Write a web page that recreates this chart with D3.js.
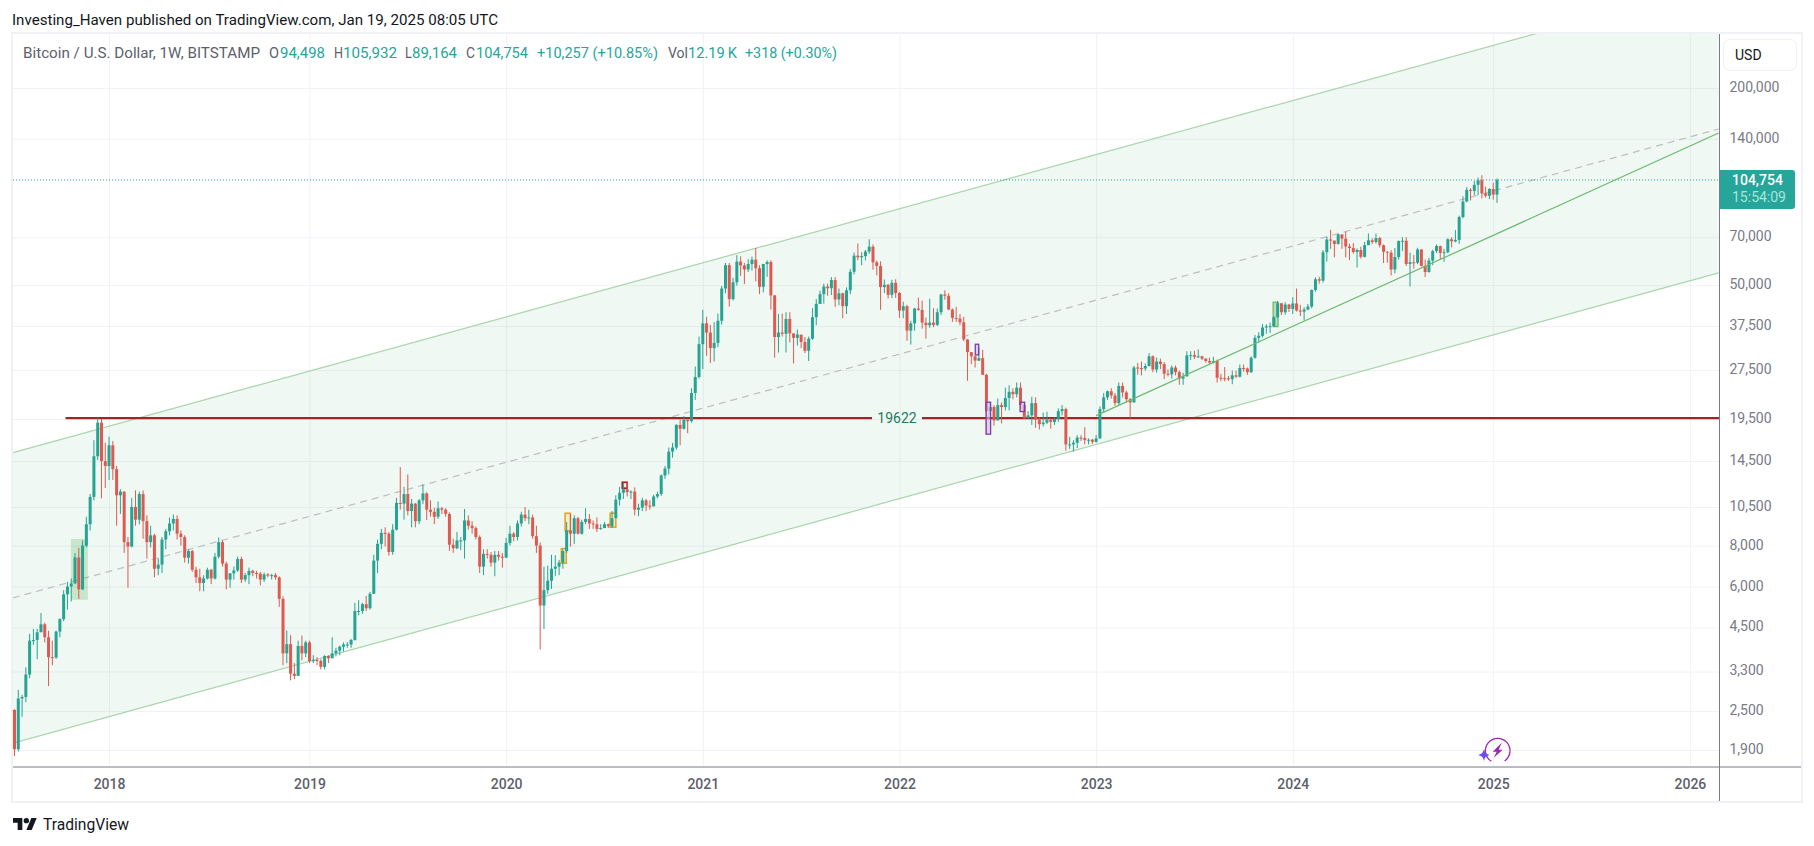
<!DOCTYPE html>
<html><head><meta charset="utf-8"><title>BTC/USD weekly</title>
<script src="https://cdn.jsdelivr.net/npm/d3@7/dist/d3.min.js"></script>
<style>html,body{margin:0;padding:0;background:#fff;overflow:hidden}svg{display:block}text{font-family:Roboto,"Open Sans",sans-serif}</style>
</head><body><div id="chart"></div>
<script>
// Weekly candles, index 0 = week of 10 Jul 2017; each open is the previous close.
const firstOpen = 2520;
const closes = [
1910,2730,2760,3230,4100,4120,4350,4600,4200,3650,
3640,4370,4770,5680,6000,6130,7360,5880,8000,9300,
11270,15000,19000,14500,14000,16200,13700,11400,11700,8200,
7950,10500,9600,11500,9500,8200,8600,6800,7000,8350,
8850,9350,9650,8700,8500,7350,7700,6750,6400,6150,
6350,6750,6350,7400,8200,7050,6300,6580,6720,7280,
6300,6500,6700,6600,6570,6300,6530,6480,6500,6400,
5500,3750,4000,3250,3200,3950,3750,4050,3550,3580,
3560,3410,3680,3620,3750,3820,3930,3990,3990,4120,
5050,5050,5300,5150,5700,7200,8100,8750,8700,7650,
8950,10800,10750,11500,10200,10750,9500,11000,11550,10300,
10150,9800,10400,10300,10000,8050,7850,8300,8300,9550,
9200,9050,8500,6900,7550,7500,7100,7500,7400,7350,
8150,8700,8500,9350,9950,9700,9750,8550,8000,5250,
5850,6250,6800,6900,7100,7700,8900,8700,9700,8700,
9450,9650,9350,9300,9000,9050,9300,9170,9700,11050,
11600,11900,11650,11700,10300,10450,11000,10600,10550,11300,
11500,13100,13750,15500,15950,18700,18200,19400,19200,23400,
26200,33000,38200,35800,32100,33300,38900,48800,57500,45300,
51000,59000,57400,55800,58000,59800,56300,49400,58000,58800,
46500,34700,35800,35500,39400,35600,34500,35300,33500,31500,
34300,39900,43800,46900,49500,48900,51800,45200,47200,43100,
48200,54900,61500,60800,61300,63300,65500,58700,57200,49300,
50100,46700,50800,47300,41800,43100,36300,38200,42400,42000,
38400,37700,38400,37800,41300,46800,46400,42100,39700,39500,
38500,34100,31200,30300,29400,29900,26600,20600,21200,19300,
21500,21200,22600,23600,23200,24300,21500,19600,20000,21800,
19400,18800,19000,19400,19100,19500,20600,20900,16300,16300,
16500,17100,17050,16800,16850,16600,17000,20900,22700,23700,
23000,21800,24600,23500,22400,21900,28000,27900,27800,28300,
30300,27600,29200,28700,26800,26700,28000,27100,25900,26300,
30500,30550,30200,30300,29800,29300,29000,29300,26050,26000,
25950,25800,26500,26250,27900,27800,27100,30000,34500,35000,
37100,37400,37450,39900,44000,41300,43600,42300,43950,41800,
41500,42100,43000,48300,52100,51600,63000,68900,68400,66800,
71400,69300,65600,64900,63100,64000,61000,66200,68500,67700,
69600,66200,63200,62800,55800,60900,68200,68300,58000,58700,
58500,64200,57200,54800,59400,63500,65800,62700,63000,69000,
68000,68700,80700,90000,97700,97000,101200,104500,95300,93700,
98300,94498,104754];
const highs = [
2530,2900,2800,3400,4300,4450,4450,4980,4650,4400,
4100,4400,4800,5850,6200,6350,7590,7880,8300,9800,
11500,16800,19666,19500,16500,17200,16700,14000,11900,11700,
8500,11200,11800,11700,11800,9900,9200,8700,7300,8500,
9000,9750,9950,9900,8900,8600,7800,7760,6900,6800,
6500,6850,6800,7600,8480,8300,7150,6600,6900,7400,
7400,6600,6850,6750,6700,6650,6620,6600,6560,6600,
6450,5600,4400,4260,3500,4100,4250,4100,4100,3700,
3650,3600,3700,3700,4200,3900,3960,4050,4060,4150,
5350,5450,5350,5620,5780,7500,8350,9000,9100,8800,
9300,11200,13900,12100,13200,11100,10800,11100,12300,11650,
11000,10450,10900,10500,10400,10100,8400,8800,8500,10350,
9900,9500,9150,8600,7800,7800,7650,7700,7700,7600,
8450,9200,8800,9550,10150,10500,10300,9950,9200,8180,
6900,6950,7500,7480,7240,7800,9450,10000,9900,9800,
9600,10400,9990,9550,9750,9300,9450,9350,10200,11400,
12100,12450,12500,11800,12050,10750,11200,11100,11000,11450,
11700,13200,14000,15950,16480,18800,19400,19900,19400,24200,
28200,34800,42000,40000,37800,38500,40900,49700,58400,58400,
52600,61700,61200,58400,60000,61100,64900,57500,58000,59500,
59600,46600,40800,40900,41300,41300,35600,36600,35100,34700,
34800,42500,45300,48100,50500,50500,52900,52900,48800,47400,
49200,56000,62900,67000,63000,64000,69000,66500,59400,59100,
52000,50400,51900,52100,47600,44500,43500,38900,42600,45800,
44800,39800,45400,42500,42400,47000,48200,47200,42400,42900,
40800,40000,34200,31200,30500,32300,31700,26800,22000,21500,
22500,21900,24300,24700,24200,25200,25200,21900,20600,22800,
22700,19700,20400,20500,19600,19700,21000,21500,21100,17200,
16800,17400,17400,18400,17000,16950,17400,21300,23400,23800,
24200,23400,25200,25200,23800,22600,28300,28900,29200,28800,
31000,30500,30000,29800,29100,27600,28400,28400,27400,27000,
31400,31400,31500,31800,30400,29900,30000,30200,29600,26800,
28100,26400,27400,27400,28600,28600,28000,30300,35200,35900,
38000,37950,38400,40200,44700,44000,44300,43800,45900,48800,
43500,42800,43800,48500,52800,53000,64000,70200,73800,68000,
71700,71500,72800,66900,67200,64700,65500,67700,71900,69500,
71900,70200,66500,63400,63900,64900,68400,70000,70000,62800,
61800,65000,64500,59800,60500,64100,66500,66000,64500,69500,
70000,73600,81500,93400,99600,98900,103900,106500,108300,99900,
98900,102700,105932];
const lows = [
1820,1880,2400,2660,3150,3980,3600,4350,4050,2980,
3450,3610,4200,4700,5100,5400,6100,5500,5850,7900,
8900,11000,14600,11160,12000,12700,12700,9200,10000,7600,
5950,7900,9200,9300,8400,7300,7900,6400,6500,6600,
7800,8600,8900,8350,8000,7100,7050,6650,6150,5800,
5800,6300,6100,6300,7300,6900,5880,5950,6300,6650,
6150,6200,6100,6450,6350,6050,6200,6400,6300,6300,
5200,3450,3500,3100,3130,3200,3570,3650,3500,3500,
3450,3350,3350,3500,3630,3670,3700,3800,3900,3900,
4100,4900,4950,5050,5100,5700,6600,7800,7950,7450,
7500,8900,10300,9600,9900,9100,9100,9300,10700,9570,
9800,9300,9650,10000,9800,7700,7600,7800,7750,7300,
8950,8700,8350,6600,6500,7300,6900,6450,7200,6850,
7350,8000,8250,8300,9150,9500,9300,8400,7600,3850,
4450,5700,5900,6450,6500,6800,7600,7950,8100,8650,
8650,9300,9000,9000,8800,8950,9050,9050,9050,9850,
10600,11100,11300,11100,9900,9850,10200,10200,10300,10530,
11150,11350,12800,13200,14850,15700,16200,18100,17650,19000,
22300,25900,27700,30400,28900,29200,32300,37900,47200,43000,
44900,49800,53300,50400,54800,55400,51300,46900,47500,53000,
42100,30000,31100,34800,31100,33400,28800,32700,32100,31000,
29300,34000,37700,43800,43900,46400,46600,42900,43400,39600,
40800,46900,53900,59500,57500,59500,62300,55700,53500,42000,
47300,45500,45600,45700,39700,39600,33800,32900,36300,41700,
36800,34300,37000,37200,37500,40500,45100,41900,38600,38600,
37700,33700,25500,28700,28000,29300,26600,17600,20000,18600,
19300,18900,20700,20700,22400,22700,20800,19500,19600,18700,
18300,18100,18500,18800,18200,18700,19100,20000,15600,15800,
15500,15900,16700,16300,16300,16350,16500,17000,20400,22300,
22500,21400,21500,22700,21900,19600,21900,26600,26500,27400,
28200,27100,27000,27700,25800,26300,25900,26500,24800,24800,
26300,29500,29700,29900,29500,29000,28600,28800,25200,25400,
25400,25500,24900,26000,26100,27200,26600,26950,29800,33400,
34600,35500,35700,37400,39700,40500,40600,41400,40800,41500,
40200,39000,41900,42500,47700,50500,50900,59000,64500,60800,
66500,64500,60700,59600,62400,56500,60200,60700,66700,66700,
67000,65100,58400,58500,53500,54300,59800,63500,57200,49500,
56100,57900,57000,52900,54600,57500,62600,59900,58900,62500,
65200,67500,66800,80000,89500,90700,94000,94200,92000,92500,
91500,91200,89164];

const priceTicks = [200000,140000,70000,50000,37500,27500,19500,14500,10500,8000,6000,4500,3300,2500,1900];
const yearLabels = ["2018","2019","2020","2021","2022","2023","2024","2025","2026"];
const yearWeeks  = [25,78,130,182,234,286,338,391,443];

// Drawn lines: [week index, price] pairs
const channelUpper = [[-0.4,15390],[450.6,417600]];
const channelLower = [[-0.4,1995],[450.6,54500]];
const channelMiddle = [[-0.4,5540],[450.6,149900]];
const trendLine = [[286,19960],[450.6,145700]];
const supportLevel = 19622;
const supportFrom = 13.5;
const lastPrice = 104754;

// Highlight boxes: week from, week to, price high, price low
const shadedBox = [14.9,19.4,8385,5465];
const orangeBoxes = [[144.6,145.9,7834,7069],[145.6,147,10046,8872],[157.5,159,10046,9106]];
const redBoxes = [[160.7,162,12494,11982]];
const greenBoxes = [[332.8,334.1,44320,37320]];
const purpleBoxes = [[256.9,258.1,21940,17518],[254.05,254.95,32980,30600],[265.9,267.1,21940,20540]];

const W=1814,H=846;
const L=13,T=34,R=1719.5,B=767,FR=1801,FB=801;
const x=d3.scaleLinear().domain([0,392]).range([14.5,1497]);
const y=d3.scaleLog().domain([200000,1900]).range([88,750]);
const UP="#26a391",DOWN="#de5a50",GRID="#f0f2f7",AXIS="#787b86";

const svg=d3.select("#chart").append("svg").attr("width",W).attr("height",H);
svg.append("defs").append("clipPath").attr("id","plot").append("rect")
  .attr("x",L).attr("y",T).attr("width",R-L).attr("height",B-T);

// outer frame
svg.append("rect").attr("x",L-1).attr("y",T-1).attr("width",FR-L+2).attr("height",FB-T+2)
  .attr("fill","#fff").attr("stroke","#f0f1f4").attr("stroke-width",2);

const plot=svg.append("g").attr("clip-path","url(#plot)");

// grid through d3 axes
const gy=plot.append("g").attr("transform",`translate(${L},0)`)
  .call(d3.axisRight(y).tickValues(priceTicks).tickSize(R-L).tickFormat(""));
const gx=plot.append("g").attr("transform",`translate(0,${B})`)
  .call(d3.axisTop(x).tickValues(yearWeeks).tickSize(B-T).tickFormat(""));
[gy,gx].forEach(g=>{g.select(".domain").remove();g.selectAll("line").attr("stroke",GRID).attr("stroke-width",1);});

// channel
const ln=d3.line().x(d=>x(d[0])).y(d=>y(d[1]));
plot.append("path").attr("d",ln(channelUpper)+"L"+ln(channelLower.slice().reverse()).slice(1)+"Z")
  .attr("fill","#43a868").attr("fill-opacity",0.08);
plot.append("path").attr("d",ln(channelUpper)).attr("fill","none").attr("stroke","#a8d5aa").attr("stroke-width",1.2);
plot.append("path").attr("d",ln(channelLower)).attr("fill","none").attr("stroke","#a8d5aa").attr("stroke-width",1.2);
plot.append("path").attr("d",ln(channelMiddle)).attr("fill","none").attr("stroke","#bcbec2").attr("stroke-width",1.2).attr("stroke-dasharray","7 5");

// boxes under the candles
const box=(g,b)=>g.append("rect").attr("x",x(b[0])).attr("width",x(b[1])-x(b[0])).attr("y",y(b[2])).attr("height",y(b[3])-y(b[2]));
box(plot,shadedBox).attr("fill","#4caf50").attr("fill-opacity",0.25);
orangeBoxes.forEach(b=>box(plot,b).attr("fill","#ffc107").attr("fill-opacity",0.15).attr("stroke","#e0a526").attr("stroke-width",1.6));
redBoxes.forEach(b=>box(plot,b).attr("fill","#ffcdd2").attr("fill-opacity",0.4).attr("stroke","#a81c1c").attr("stroke-width",1.6));
greenBoxes.forEach(b=>box(plot,b).attr("fill","#a5d6a7").attr("fill-opacity",0.75).attr("stroke","#66b56a").attr("stroke-width",1.2));

// support line
const labelX=897, labelHalf=25;
const sy=y(supportLevel);
plot.append("line").attr("x1",x(supportFrom)).attr("x2",labelX-labelHalf).attr("y1",sy).attr("y2",sy).attr("stroke","#a32426").attr("stroke-width",2.2);
plot.append("line").attr("x1",labelX+labelHalf).attr("x2",R).attr("y1",sy).attr("y2",sy).attr("stroke","#a32426").attr("stroke-width",2.2);

// last price dotted
plot.append("line").attr("x1",L).attr("x2",R).attr("y1",y(lastPrice)).attr("y2",y(lastPrice))
  .attr("stroke",UP).attr("stroke-width",1).attr("stroke-dasharray","1 2");

// candles
const opens=closes.map((c,i)=>i===0?firstOpen:closes[i-1]);
const candles=plot.append("g").selectAll("g").data(closes).join("g");
candles.append("line")
  .attr("x1",(d,i)=>x(i)).attr("x2",(d,i)=>x(i))
  .attr("y1",(d,i)=>y(highs[i])).attr("y2",(d,i)=>y(lows[i]))
  .attr("stroke",(d,i)=>d>=opens[i]?UP:DOWN).attr("stroke-width",1);
candles.append("rect")
  .attr("x",(d,i)=>x(i)-1.5).attr("width",3)
  .attr("y",(d,i)=>y(Math.max(d,opens[i])))
  .attr("height",(d,i)=>Math.max(1,Math.abs(y(d)-y(opens[i]))))
  .attr("fill",(d,i)=>d>=opens[i]?UP:DOWN);

// trend line over candles
plot.append("path").attr("d",ln(trendLine)).attr("fill","none").attr("stroke","#6cb86f").attr("stroke-width",1.2);

// purple boxes over candles
purpleBoxes.forEach(b=>box(plot,b).attr("fill","#d9b3e6").attr("fill-opacity",0.6).attr("stroke","#7a3fa8").attr("stroke-width",1.3));

// level label
svg.append("text").attr("x",labelX).attr("y",sy+5).attr("text-anchor","middle")
  .attr("font-size",14).attr("fill","#1f7a63").text(supportLevel);

// axes
const axisR=svg.append("g").attr("transform",`translate(${R},-1)`)
  .call(d3.axisRight(y).tickValues(priceTicks).tickSize(0).tickPadding(10).tickFormat(d3.format(",")));
axisR.select(".domain").remove();
axisR.selectAll("text").attr("fill","#787b86").attr("font-size",14).style("font-family","Roboto,sans-serif");
const axisB=svg.append("g").attr("transform",`translate(0,${B+1})`)
  .call(d3.axisBottom(x).tickValues(yearWeeks).tickSize(0).tickPadding(11).tickFormat((d,i)=>yearLabels[i]));
axisB.select(".domain").remove();
axisB.selectAll("text").attr("fill","#5d606b").attr("font-size",14).attr("font-weight",500).style("font-family","Roboto,sans-serif");

svg.append("line").attr("x1",R).attr("x2",R).attr("y1",T).attr("y2",FB).attr("stroke",AXIS).attr("stroke-width",1);
svg.append("line").attr("x1",L).attr("x2",FR).attr("y1",B).attr("y2",B).attr("stroke",AXIS).attr("stroke-width",1);

// USD button
svg.append("rect").attr("x",1723.5).attr("y",39.5).attr("width",73).attr("height",31).attr("rx",6)
  .attr("fill","#fff").attr("stroke","#f0f1f4");
svg.append("text").attr("x",1735).attr("y",60).attr("font-size",14).attr("fill","#131722").text("USD");

// last-price tag
svg.append("path").attr("d","M1720 170H1792a3 3 0 0 1 3 3V206a3 3 0 0 1 -3 3H1720Z").attr("fill","#26a69a");
svg.append("text").attr("x",1732).attr("y",185).attr("font-size",14).attr("font-weight",500).attr("fill","#fff").text(d3.format(",")(lastPrice));
svg.append("text").attr("x",1732).attr("y",202).attr("font-size",14).attr("fill","#a8e4dc").text("15:54:09");

// header
svg.append("text").attr("x",12).attr("y",25).attr("font-size",14).attr("fill","#131722")
  .attr("textLength",486).attr("lengthAdjust","spacingAndGlyphs")
  .text("Investing_Haven published on TradingView.com, Jan 19, 2025 08:05 UTC");

// legend
const GREY="#5d606b",TEAL="#26a69a";
const legendParts=[
 ["Bitcoin / U.S. Dollar, 1W, BITSTAMP",23,237,GREY],["O",269,10,GREY],["94,498",280,45,TEAL],
 ["H",334,9,GREY],["105,932",343,54,TEAL],["L",405,7,GREY],["89,164",412,45,TEAL],
 ["C",466,9,GREY],["104,754",476,52,TEAL],["+10,257 (+10.85%)",537,121,TEAL],
 ["Vol",668,20,GREY],["12.19\u2009K",688,49,TEAL],["+318 (+0.30%)",745,92,TEAL]];
legendParts.forEach(p=>svg.append("text").attr("x",p[1]).attr("y",58).attr("font-size",14).attr("fill",p[3])
  .attr("textLength",p[2]).attr("lengthAdjust","spacingAndGlyphs").text(p[0]));

// ghost-feed icon
const ic=svg.append("g").attr("transform","translate(1497.7,750.7)");
ic.append("path").attr("d",d3.arc()({innerRadius:11.7,outerRadius:13,startAngle:-2.6,endAngle:2.55+0})).attr("fill","#9c27b0");
ic.append("path").attr("d","M4 -8L-5 1H-1L-4 7L5 -1H1Z").attr("fill","#9c27b0");
ic.append("path").attr("d","M-13.7 -2C-13 1.5 -12 3 -8 4.3C-12 5.5 -13 6.5 -13.7 10.5C-14.5 6.5 -15.5 5.5 -19.5 4.3C-15.5 3 -14.5 1.5 -13.7 -2Z").attr("fill","#6a4cf5");

// TradingView logo
const logo=svg.append("g").attr("transform","translate(13,815.3) scale(0.667)").attr("fill","#131722");
logo.append("path").attr("d","M14 22H7V11H0V4h14v18zM28 22h-8l7.5-18h8L28 22z");
logo.append("circle").attr("cx",20).attr("cy",8).attr("r",4);
svg.append("text").attr("x",43).attr("y",830).attr("font-size",16).attr("fill","#131722")
  .attr("textLength",86).attr("lengthAdjust","spacingAndGlyphs").text("TradingView");
</script></body></html>
